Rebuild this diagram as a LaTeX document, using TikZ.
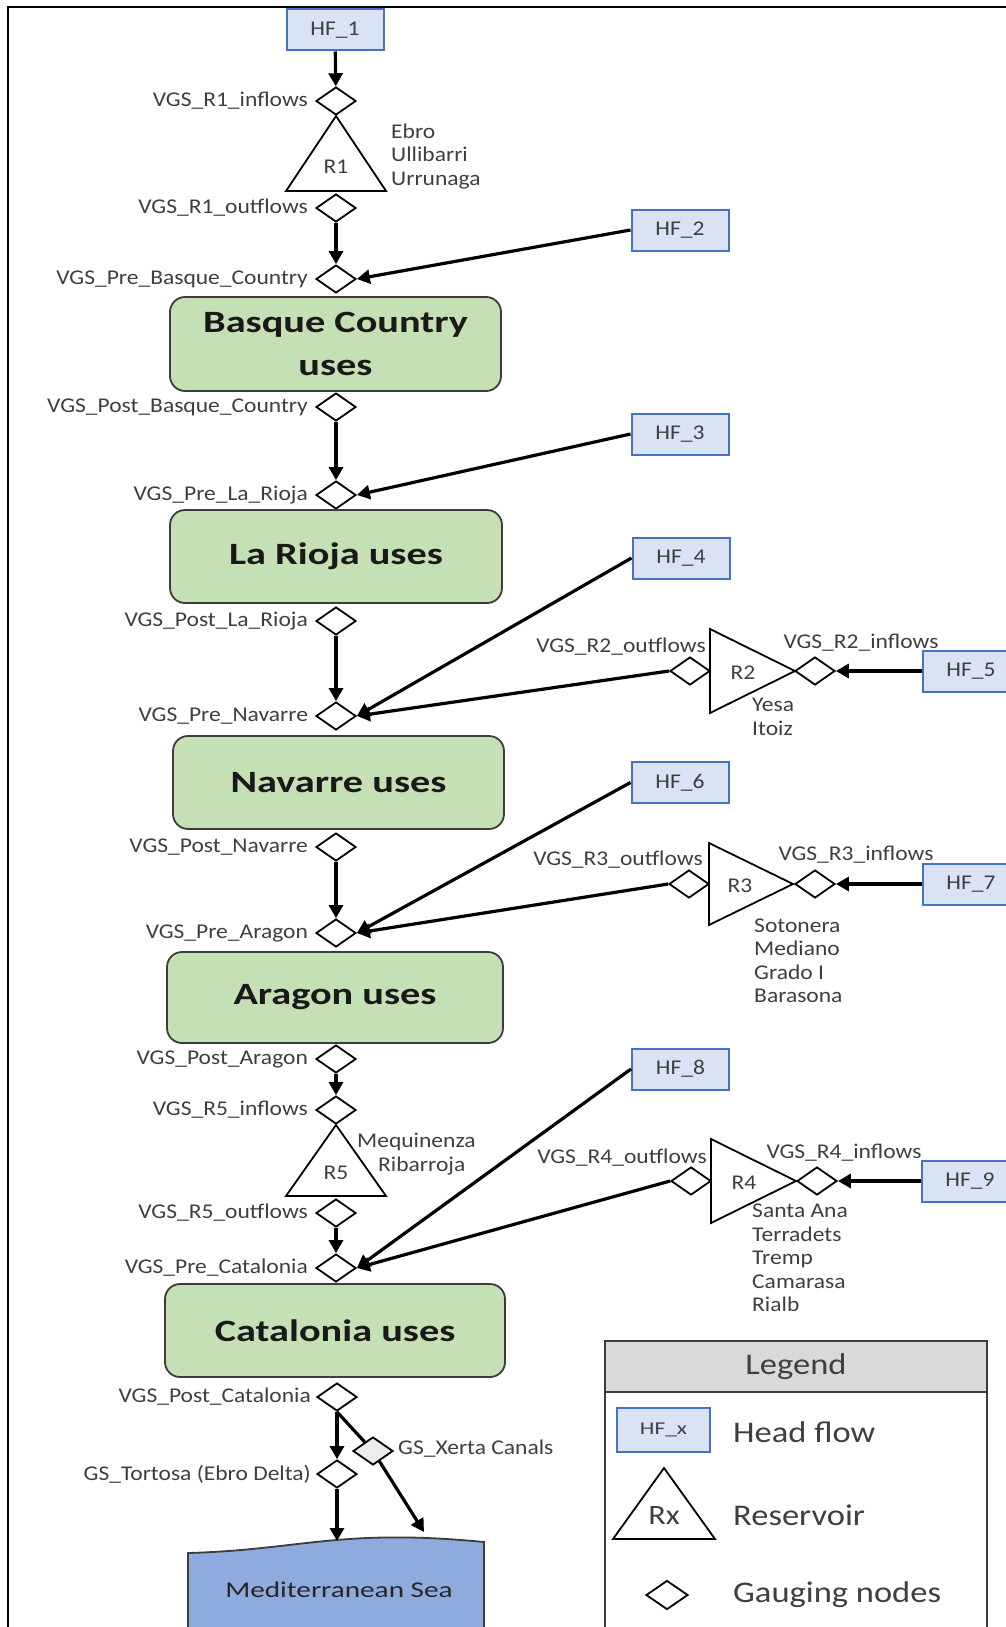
\documentclass[tikz,border=0pt]{standalone}
\usepackage{fontspec}
\setmainfont{Carlito}
\newfontfamily\labfont[FakeStretch=1.12]{Carlito}
\newfontfamily\regfont[FakeStretch=1.3]{Carlito}
\newfontfamily\legfont[FakeStretch=1.15]{Carlito}
\usetikzlibrary{shapes.geometric,arrows.meta}
\definecolor{hffill}{HTML}{DAE3F3}
\definecolor{hfborder}{HTML}{4472C4}
\definecolor{usefill}{HTML}{C5E0B4}
\definecolor{useborder}{HTML}{3C3C3C}
\definecolor{seafill}{HTML}{8FAADC}
\definecolor{labgray}{HTML}{3F3F3F}
\definecolor{leghead}{HTML}{D9D9D9}
\definecolor{xertafill}{HTML}{EDEDED}
\begin{document}
\begin{tikzpicture}[x=1pt,y=-1pt,
 lab/.style={font=\labfont\fontsize{21}{23.5}\selectfont, text=labgray, inner sep=0},
 glab/.style={lab, anchor=east},
 hf/.style={draw=hfborder, fill=hffill, line width=2, minimum width=97, minimum height=41, inner sep=0, font=\labfont\fontsize{21}{23.5}\selectfont, text=labgray},
 gauge/.style={diamond, draw=black, line width=1.8, fill=white, minimum width=40, minimum height=28, inner sep=0},
 uses/.style={draw=useborder, fill=usefill, line width=1.8, rounded corners=15, inner sep=0, font=\regfont\bfseries\fontsize{31}{43}\selectfont, align=center, text=black!90},
 res/.style={draw=black, line width=1.8, line join=miter, fill=white},
 flow/.style={line width=3.2},
 flowto/.style={line width=3.2, -{Triangle[length=13,width=14]}},
 legtext/.style={font=\legfont\fontsize{30}{34}\selectfont, text=labgray, inner sep=0},
]
\useasboundingbox (0,0) rectangle (1006,1627);
\clip (0,0) rectangle (1006,1627);
\fill[white] (0,0) rectangle (1006,1627);
\draw[line width=2.5] (1006,7) -- (8,7) -- (8,1627);

% ---- R1 section
\node[hf] (hf1) at (335,30) {HF\_1};
\node[gauge] (r1in) at (336,101) {};
\draw[res] (286,191) -- (336,116) -- (386,191) -- cycle;
\node[lab] (r1) at (336,167) {R1};
\node[lab, align=left, anchor=west] (r1names) at (391,156.5) {Ebro\\Ullibarri\\Urrunaga};
\node[gauge] (r1out) at (336,208) {};
\node[glab] (l1) at ([xshift=-7]r1in.west) {VGS\_R1\_inflows};
\node[glab] (l2) at ([xshift=-7]r1out.west) {VGS\_R1\_outflows};

% ---- Basque Country
\node[gauge] (prebc) at (336,279) {};
\node[glab] (l3) at ([xshift=-7]prebc.west) {VGS\_Pre\_Basque\_Country};
\node[hf] (hf2) at (680,230) {HF\_2};
\node[uses, minimum width=331, minimum height=94] (bc) at (335.5,344) {Basque Country\\uses};
\node[gauge] (postbc) at (336,407) {};
\node[glab] (l4) at ([xshift=-7]postbc.west) {VGS\_Post\_Basque\_Country};

% ---- La Rioja
\node[gauge] (prelr) at (336,495) {};
\node[glab] (l5) at ([xshift=-7]prelr.west) {VGS\_Pre\_La\_Rioja};
\node[hf] (hf3) at (680,434) {HF\_3};
\node[uses, minimum width=332, minimum height=93] (lr) at (336,556.5) {La Rioja uses};
\node[gauge] (postlr) at (336,621) {};
\node[glab] (l6) at ([xshift=-7]postlr.west) {VGS\_Post\_La\_Rioja};

% ---- Navarre
\node[gauge] (prenav) at (336,716) {};
\node[glab] (l7) at ([xshift=-7]prenav.west) {VGS\_Pre\_Navarre};
\node[hf] (hf4) at (681,558) {HF\_4};
\draw[res] (710,629) -- (795,671) -- (710,713) -- cycle;
\node[lab] (r2) at (743,673) {R2};
\node[gauge] (r2out) at (690,671) {};
\node[gauge] (r2in) at (815,671) {};
\node[hf] (hf5) at (971,671) {HF\_5};
\node[lab] (l8) at (621,647) {VGS\_R2\_outflows};
\node[lab] (l9) at (861,643) {VGS\_R2\_inflows};
\node[lab, align=left, anchor=west] (r2names) at (752,717) {Yesa\\Itoiz};
\node[uses, minimum width=331, minimum height=93] (nav) at (338.5,782.5) {Navarre uses};
\node[gauge] (postnav) at (336,847) {};
\node[glab] (l10) at ([xshift=-7]postnav.west) {VGS\_Post\_Navarre};

% ---- Aragon
\node[gauge] (prear) at (336,933) {};
\node[glab] (l11) at ([xshift=-7]prear.west) {VGS\_Pre\_Aragon};
\node[hf] (hf6) at (680,782.5) {HF\_6};
\draw[res] (709,843) -- (793,884) -- (709,925) -- cycle;
\node[lab] (r3) at (740,886) {R3};
\node[gauge] (r3out) at (689,884) {};
\node[gauge] (r3in) at (815,884) {};
\node[hf] (hf7) at (971,884) {HF\_7};
\node[lab] (l12) at (618,860) {VGS\_R3\_outflows};
\node[lab] (l13) at (856,855) {VGS\_R3\_inflows};
\node[lab, align=left, anchor=west] (r3names) at (754,961) {Sotonera\\Mediano\\Grado I\\Barasona};
\node[uses, minimum width=336, minimum height=91] (ar) at (335,997.5) {Aragon uses};
\node[gauge] (postar) at (336,1059) {};
\node[glab] (l14) at ([xshift=-7]postar.west) {VGS\_Post\_Aragon};

% ---- R5 and Catalonia
\node[gauge] (r5in) at (336,1110) {};
\node[glab] (l15) at ([xshift=-7]r5in.west) {VGS\_R5\_inflows};
\draw[res] (286,1196) -- (336,1125) -- (386,1196) -- cycle;
\node[lab] (r5) at (336,1173) {R5};
\node[lab, anchor=west] (r5n1) at (357,1142) {Mequinenza};
\node[lab, anchor=west] (r5n2) at (378,1166) {Ribarroja};
\node[gauge] (r5out) at (336,1213) {};
\node[glab] (l16) at ([xshift=-7]r5out.west) {VGS\_R5\_outflows};
\node[gauge] (precat) at (336,1268) {};
\node[glab] (l17) at ([xshift=-7]precat.west) {VGS\_Pre\_Catalonia};
\node[hf] (hf8) at (680.5,1069) {HF\_8};
\draw[res] (711,1139) -- (796,1181) -- (711,1223) -- cycle;
\node[lab] (r4) at (744,1183) {R4};
\node[gauge] (r4out) at (691,1181) {};
\node[gauge] (r4in) at (817,1181) {};
\node[hf] (hf9) at (970,1181) {HF\_9};
\node[lab] (l18) at (622,1158) {VGS\_R4\_outflows};
\node[lab] (l19) at (844,1153) {VGS\_R4\_inflows};
\node[lab, align=left, anchor=west] (r4names) at (752,1258) {Santa Ana\\Terradets\\Tremp\\Camarasa\\Rialb};
\node[uses, minimum width=340, minimum height=93] (cat) at (335,1330.5) {Catalonia uses};
\node[gauge] (postcat) at (337,1397) {};
\node[glab] (l20) at ([xshift=-5]postcat.west) {VGS\_Post\_Catalonia};
\node[gauge] (tortosa) at (337,1474) {};
\node[glab] (l21) at ([xshift=-5]tortosa.west) {GS\_Tortosa (Ebro Delta)};
\node[gauge, fill=xertafill] (xerta) at (373,1451) {};
\node[lab, anchor=west] (l22) at (398,1449) {GS\_Xerta Canals};
\coordinate (xend) at (424,1532);

% ---- Sea
\draw[line width=1.8, draw=useborder, fill=seafill] (188,1640) -- (188,1553)
  .. controls (300,1550) and (340,1528) .. (484,1542) -- (484,1640) -- cycle;
\coordinate (seatop) at (337,1541);
\node[font=\regfont\fontsize{22.5}{26}\selectfont, text=black!85, inner sep=0] (sea) at (339,1590) {Mediterranean Sea};

% ---- connectors
\draw[flowto] (hf1) -- (r1in);
\draw[flowto] (r1out) -- (prebc);
\draw[flowto] (hf2.west) -- (prebc.east);
\draw[flowto] (postbc) -- (prelr);
\draw[flowto] (hf3.west) -- (prelr.east);
\draw[flowto] (postlr) -- (prenav);
\draw[flowto] (hf4.west) -- (prenav.east);
\draw[flowto] (r2out.west) -- (prenav.east);
\draw[flowto] (hf5) -- (r2in);
\draw[flowto] (postnav) -- (prear);
\draw[flowto] (hf6.west) -- (prear.east);
\draw[flowto] (r3out.west) -- (prear.east);
\draw[flowto] (hf7) -- (r3in);
\draw[flowto] (postar) -- (r5in);
\draw[flowto] (r5out) -- (precat);
\draw[flowto] (hf8.west) -- (precat.east);
\draw[flowto] (r4out.west) -- (precat.east);
\draw[flowto] (hf9) -- (r4in);
\draw[flowto] (postcat) -- (tortosa);
\draw[flow] (postcat.south) -- (xerta);
\draw[flowto] (xerta) -- (xend);
\draw[flowto] (tortosa) -- (seatop);

% ---- Legend
\draw[line width=1.8, draw=useborder, fill=leghead] (605,1341) rectangle (987,1392);
\draw[line width=1.8, draw=useborder] (605,1392) -- (605,1640) (987,1392) -- (987,1640);
\node[legtext] (legtitle) at (796,1367) {Legend};
\node[hf, minimum width=93, minimum height=44, font=\regfont\fontsize{18}{20}\selectfont] (leghf) at (663.5,1430) {HF\_x};
\node[legtext, anchor=west] (leg1) at (733,1432) {Head flow};
\draw[res] (613,1539) -- (664,1468) -- (715,1539) -- cycle;
\node[legtext, font=\legfont\fontsize{28}{30}\selectfont] (legrx) at (664,1515) {Rx};
\node[legtext, anchor=west] (leg2) at (733,1515) {Reservoir};
\node[gauge, minimum width=42, minimum height=29] (leggauge) at (667,1595) {};
\node[legtext, anchor=west] (leg3) at (733,1595) {Gauging nodes};
\end{tikzpicture}
\end{document}
